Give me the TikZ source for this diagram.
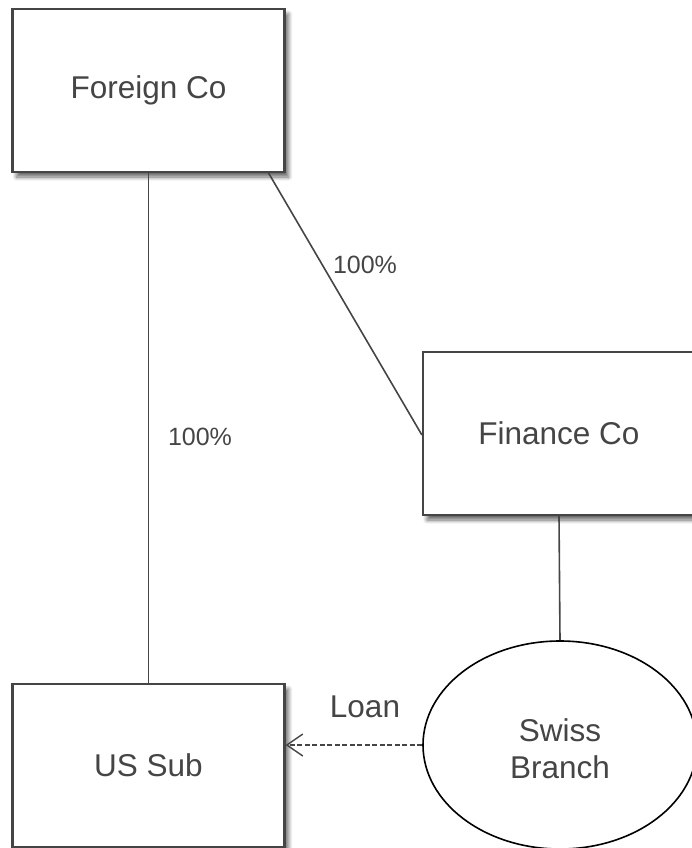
\documentclass[tikz,border=0pt]{standalone}
\usepackage{fontspec}
\setmainfont{Liberation Sans}
\usetikzlibrary{shapes.geometric,shadows.blur,arrows.meta}
\definecolor{ink}{HTML}{454545}
\tikzset{
  entity/.style={draw=ink, line width=2.2pt, fill=white, minimum width=272pt, minimum height=163pt,
    text=ink, font=\fontsize{31.5}{37}\selectfont,
    blur shadow={shadow xshift=4pt, shadow yshift=-5pt, shadow blur radius=4pt, shadow blur steps=8, shadow opacity=60}},
  branch/.style={draw=black, line width=1.6pt, fill=white, ellipse, minimum width=274pt, minimum height=208pt,
    text=ink, font=\fontsize{31.5}{37}\selectfont, align=center, inner sep=0pt},
  link/.style={draw=ink, line width=1.6pt},
  loanlink/.style={draw=ink, line width=1.4pt, dash pattern=on 5pt off 2.5pt,
    -{Straight Barb[length=16pt, width=22pt, line width=1.4pt]}},
  lbl/.style={text=ink, font=\fontsize{25}{30}\selectfont, inner sep=0pt},
  bigl/.style={text=ink, font=\fontsize{31.5}{37}\selectfont, inner sep=0pt}
}
\begin{document}
\begin{tikzpicture}[x=1pt,y=-1pt]
\useasboundingbox (0,0) rectangle (691,848);
\node[entity] (foreign) at (148.5,90.5) {Foreign Co};
\node[entity] (finance) at (559,433.5) {Finance Co};
\node[entity] (ussub) at (148.5,765.5) {US Sub};
\node[branch] (swiss) at (560,745) {};
\node[bigl, align=center] (swisstext) at (560,749) {Swiss\\Branch};
% ownership links
\draw[link] (foreign.south) -- (ussub.north);
\draw[link] (foreign.south east) ++(-17,0) coordinate (fsp) -- (finance.west |- 0,435) coordinate (fin);
\draw[link] (finance.south) -- (swiss.north);
% loan
\draw[loanlink] (swiss.west) -- (ussub.east |- swiss.west);
% labels
\node[lbl] (pctus) at (200,437) {100\%};
\node[lbl] (pctfin) at (365,265) {100\%};
\node[bigl] (loan) at (365,707) {Loan};
\end{tikzpicture}
\end{document}
